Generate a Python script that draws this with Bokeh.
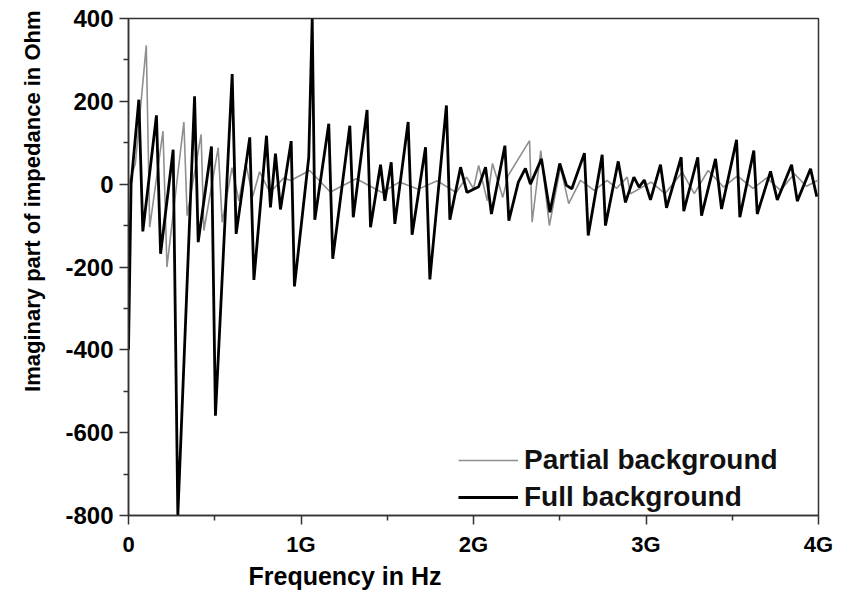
from bokeh.plotting import figure
from bokeh.models import FixedTicker, Legend, LegendItem, Range1d, Title
from bokeh.embed import file_html
from bokeh.resources import INLINE

# Full background (black) – frequency in GHz, imaginary impedance in Ohm
full_f = [0.000, 0.015, 0.060, 0.083, 0.162, 0.186, 0.259, 0.286, 0.383, 0.404,
          0.481, 0.504, 0.601, 0.624, 0.703, 0.727, 0.800, 0.823, 0.852, 0.881,
          0.943, 0.962, 1.045, 1.065, 1.080, 1.161, 1.184, 1.283, 1.303, 1.383,
          1.403, 1.461, 1.486, 1.523, 1.544, 1.621, 1.644, 1.722, 1.747, 1.843,
          1.863, 1.925, 1.962, 2.030, 2.070, 2.104, 2.182, 2.205, 2.260, 2.301,
          2.330, 2.394, 2.443, 2.500, 2.539, 2.570, 2.643, 2.665, 2.746, 2.765,
          2.839, 2.881, 2.930, 2.960, 2.990, 3.026, 3.084, 3.119, 3.204, 3.219,
          3.300, 3.322, 3.403, 3.438, 3.525, 3.544, 3.625, 3.645, 3.722, 3.761,
          3.844, 3.877, 3.954, 3.990]
full_z = [-400, 0, 204, -114, 166, -168, 83, -800, 212, -140,
          91, -559, 266, -120, 113, -231, 117, -56, 74, -61,
          104, -247, 65, 400, -86, 146, -180, 141, -80, 179,
          -104, 47, -40, 53, -96, 150, -122, 89, -230, 190,
          -86, 41, -20, -6, 41, -72, 93, -88, 5, 38,
          0, 61, -68, 50, -3, -11, 75, -124, 71, -100,
          55, -44, 17, -7, 10, -38, 47, -57, 65, -65,
          65, -76, 61, -60, 107, -80, 81, -72, 31, -38,
          47, -41, 37, -30]

# Partial background (gray)
part_f = [0.000, 0.040, 0.103, 0.123, 0.200, 0.223, 0.321, 0.340, 0.421, 0.437,
          0.520, 0.543, 0.600, 0.640, 0.680, 0.720, 0.760, 0.820, 0.900, 0.940,
          1.050, 1.170, 1.320, 1.470, 1.570, 1.680, 1.790, 1.900, 1.960, 2.000,
          2.030, 2.080, 2.110, 2.170, 2.200, 2.325, 2.340, 2.390, 2.440, 2.504,
          2.552, 2.620, 2.700, 2.775, 2.830, 2.891, 2.910, 3.030, 3.110, 3.210,
          3.280, 3.360, 3.450, 3.530, 3.620, 3.700, 3.780, 3.860, 3.930, 4.000]
part_z = [0, 50, 335, -104, 128, -200, 150, -76, 120, -112,
          88, -92, 40, -40, 50, -30, 30, -20, 15, 9,
          33, -19, 13, -20, 5, -12, 8, -20, 17, -11,
          45, -40, 50, -32, 20, 105, -92, 81, -100, 41,
          -47, 9, -15, 9, -10, 17, -23, 5, -23, 29,
          -23, 33, -7, 20, -10, 15, -15, 25, -5, 10]

x_ticks = [0, 1, 2, 3, 4]
x_tick_labels = ["0", "1G", "2G", "3G", "4G"]
y_ticks = [-800, -600, -400, -200, 0, 200, 400]
y_tick_labels = ["-800", "-600", "-400", "-200", "0", "200", "400"]

p = figure(width=841, height=592, output_backend="svg", toolbar_location=None,
           x_range=Range1d(0, 4), y_range=Range1d(-800, 400),
           min_border_left=128, min_border_right=23, min_border_top=18,
           min_border_bottom=77)

p.xgrid.visible = False
p.ygrid.visible = False
p.outline_line_color = "#333333"
p.outline_line_width = 1.5
p.background_fill_color = "white"
p.border_fill_color = "white"

r_part = p.line(part_f, part_z, line_color="#8f8f8f", line_width=1.6)
r_full = p.line(full_f, full_z, line_color="black", line_width=2.8)

# axes
p.xaxis.ticker = FixedTicker(ticks=x_ticks, minor_ticks=[0.5, 1.5, 2.5, 3.5])
p.xaxis.major_label_overrides = {t: l for t, l in zip(x_ticks, x_tick_labels)}
p.yaxis.ticker = FixedTicker(ticks=y_ticks,
                             minor_ticks=[-700, -500, -300, -100, 100, 300])
p.yaxis.major_label_overrides = {t: l for t, l in zip(y_ticks, y_tick_labels)}
for ax in (p.xaxis[0], p.yaxis[0]):
    ax.axis_line_color = "#333333"
    ax.axis_line_width = 1.5
    ax.major_tick_line_color = "#333333"
    ax.minor_tick_line_color = "#333333"
    ax.major_tick_line_width = 1.5
    ax.minor_tick_line_width = 1.5
    ax.major_tick_in = 0
    ax.major_tick_out = 9
    ax.minor_tick_in = 0
    ax.minor_tick_out = 5
    ax.major_label_text_color = "black"

p.xaxis.major_label_text_font = "Liberation Sans"
p.xaxis.major_label_text_font_size = "22px"
p.xaxis.major_label_text_font_style = "bold"
p.xaxis.major_label_text_line_height = 1.0
p.xaxis.major_label_standoff = 7

p.yaxis.major_label_text_font = "Liberation Sans"
p.yaxis.major_label_text_font_size = "24px"
p.yaxis.major_label_text_font_style = "bold"
p.yaxis.major_label_standoff = 6

# axis titles placed as side titles so they can be offset like the reference
ytitle = Title(text="Imaginary part of impedance in Ohm", align="right",
               offset=-8, standoff=35, text_font="Liberation Sans",
               text_font_size="22px", text_font_style="bold", text_color="black")
p.add_layout(ytitle, "left")
xtitle = Title(text="Frequency in Hz", align="left", offset=120, standoff=0,
               text_font="Liberation Sans", text_font_size="25px",
               text_font_style="bold", text_color="black",
               text_line_height=1.0)
p.add_layout(xtitle, "below")

legend = Legend(items=[LegendItem(label="Partial background", renderers=[r_part]),
                       LegendItem(label="Full background", renderers=[r_full])],
                location=(330, 2))
legend.border_line_color = None
legend.background_fill_alpha = 0
legend.padding = 0
legend.spacing = 5
legend.glyph_width = 60
legend.glyph_height = 30
legend.label_standoff = 6
legend.label_text_font = "Liberation Sans"
legend.label_text_font_size = "28px"
legend.label_text_font_style = "bold"
legend.label_text_color = "#111111"
p.add_layout(legend)

open("out.html", "w").write(file_html(p, INLINE))
